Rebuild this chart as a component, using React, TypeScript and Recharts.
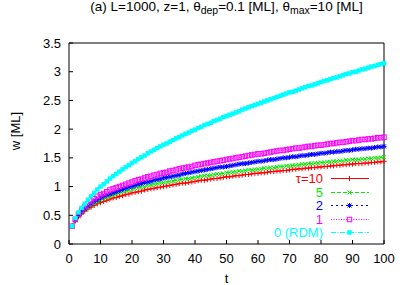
import React from "react"
import { LineChart, Line, XAxis, YAxis } from "recharts"

document.body.style.margin = "0"

const FONT = "'Liberation Sans', Arial, sans-serif"

const tValues = [
    1, 2, 3, 4, 5, 6, 7, 8, 9, 10, 11, 12, 13, 14, 15, 16, 17, 18, 19, 20,
    21, 22, 23, 24, 25, 26, 27, 28, 29, 30, 31, 32, 33, 34, 35, 36, 37, 38, 39, 40,
    41, 42, 43, 44, 45, 46, 47, 48, 49, 50, 51, 52, 53, 54, 55, 56, 57, 58, 59, 60,
    61, 62, 63, 64, 65, 66, 67, 68, 69, 70, 71, 72, 73, 74, 75, 76, 77, 78, 79, 80,
    81, 82, 83, 84, 85, 86, 87, 88, 89, 90, 91, 92, 93, 94, 95, 96, 97, 98, 99, 100,
]

// w [ML], one value per t
const tau10 = [
    0.31, 0.40, 0.47, 0.52, 0.57, 0.61, 0.64, 0.67, 0.70, 0.72,
    0.74, 0.76, 0.78, 0.80, 0.81, 0.83, 0.84, 0.86, 0.87, 0.89,
    0.90, 0.91, 0.92, 0.94, 0.95, 0.96, 0.97, 0.98, 0.99, 1.00,
    1.01, 1.02, 1.03, 1.04, 1.05, 1.06, 1.06, 1.07, 1.08, 1.09,
    1.10, 1.11, 1.11, 1.12, 1.13, 1.14, 1.14, 1.15, 1.16, 1.17,
    1.17, 1.18, 1.19, 1.19, 1.20, 1.21, 1.21, 1.22, 1.23, 1.23,
    1.24, 1.24, 1.25, 1.26, 1.26, 1.27, 1.27, 1.28, 1.28, 1.29,
    1.30, 1.30, 1.31, 1.31, 1.32, 1.32, 1.33, 1.33, 1.34, 1.34,
    1.35, 1.35, 1.36, 1.36, 1.37, 1.37, 1.38, 1.38, 1.39, 1.39,
    1.40, 1.40, 1.40, 1.41, 1.41, 1.42, 1.42, 1.43, 1.43, 1.44,
]
const tau5 = [
    0.31, 0.41, 0.48, 0.54, 0.59, 0.63, 0.67, 0.70, 0.73, 0.76,
    0.79, 0.81, 0.83, 0.85, 0.87, 0.89, 0.91, 0.92, 0.94, 0.95,
    0.97, 0.98, 0.99, 1.00, 1.02, 1.03, 1.04, 1.05, 1.06, 1.07,
    1.08, 1.09, 1.10, 1.11, 1.12, 1.13, 1.14, 1.14, 1.15, 1.16,
    1.17, 1.18, 1.19, 1.19, 1.20, 1.21, 1.22, 1.22, 1.23, 1.24,
    1.25, 1.25, 1.26, 1.27, 1.27, 1.28, 1.29, 1.29, 1.30, 1.30,
    1.31, 1.32, 1.32, 1.33, 1.33, 1.34, 1.35, 1.35, 1.36, 1.36,
    1.37, 1.37, 1.38, 1.39, 1.39, 1.40, 1.40, 1.41, 1.41, 1.42,
    1.42, 1.43, 1.43, 1.44, 1.44, 1.45, 1.45, 1.46, 1.46, 1.47,
    1.47, 1.47, 1.48, 1.48, 1.49, 1.49, 1.50, 1.50, 1.51, 1.51,
]
const tau2 = [
    0.31, 0.42, 0.50, 0.56, 0.61, 0.66, 0.70, 0.74, 0.77, 0.80,
    0.83, 0.85, 0.87, 0.89, 0.91, 0.93, 0.95, 0.97, 0.99, 1.00,
    1.02, 1.04, 1.05, 1.07, 1.08, 1.09, 1.11, 1.12, 1.13, 1.15,
    1.16, 1.17, 1.18, 1.19, 1.20, 1.22, 1.23, 1.24, 1.25, 1.26,
    1.27, 1.28, 1.29, 1.30, 1.31, 1.32, 1.33, 1.34, 1.34, 1.35,
    1.36, 1.37, 1.38, 1.39, 1.40, 1.40, 1.41, 1.42, 1.43, 1.44,
    1.44, 1.45, 1.46, 1.47, 1.47, 1.48, 1.49, 1.50, 1.50, 1.51,
    1.52, 1.52, 1.53, 1.54, 1.54, 1.55, 1.56, 1.56, 1.57, 1.58,
    1.58, 1.59, 1.60, 1.60, 1.61, 1.61, 1.62, 1.63, 1.63, 1.64,
    1.65, 1.65, 1.66, 1.66, 1.67, 1.67, 1.68, 1.69, 1.69, 1.70,
]
const tau1 = [
    0.31, 0.43, 0.52, 0.59, 0.65, 0.70, 0.75, 0.79, 0.83, 0.86,
    0.88, 0.91, 0.94, 0.96, 0.98, 1.00, 1.02, 1.04, 1.06, 1.08,
    1.10, 1.12, 1.13, 1.15, 1.17, 1.18, 1.20, 1.21, 1.23, 1.24,
    1.25, 1.27, 1.28, 1.29, 1.31, 1.32, 1.33, 1.34, 1.35, 1.37,
    1.38, 1.39, 1.40, 1.41, 1.42, 1.43, 1.44, 1.45, 1.46, 1.47,
    1.48, 1.49, 1.50, 1.51, 1.52, 1.53, 1.54, 1.55, 1.56, 1.57,
    1.57, 1.58, 1.59, 1.60, 1.61, 1.62, 1.63, 1.63, 1.64, 1.65,
    1.66, 1.67, 1.67, 1.68, 1.69, 1.70, 1.70, 1.71, 1.72, 1.72,
    1.73, 1.74, 1.75, 1.75, 1.76, 1.77, 1.77, 1.78, 1.79, 1.80,
    1.80, 1.81, 1.82, 1.82, 1.83, 1.83, 1.84, 1.85, 1.85, 1.86,
]
const rdm = [
    0.31, 0.45, 0.55, 0.63, 0.70, 0.77, 0.83, 0.89, 0.95, 1.00,
    1.04, 1.09, 1.14, 1.18, 1.22, 1.26, 1.30, 1.34, 1.37, 1.41,
    1.44, 1.48, 1.51, 1.54, 1.58, 1.61, 1.64, 1.67, 1.70, 1.73,
    1.75, 1.78, 1.81, 1.84, 1.86, 1.89, 1.92, 1.94, 1.97, 1.99,
    2.02, 2.04, 2.07, 2.09, 2.11, 2.14, 2.16, 2.18, 2.21, 2.23,
    2.25, 2.27, 2.29, 2.31, 2.34, 2.36, 2.38, 2.40, 2.42, 2.44,
    2.46, 2.48, 2.50, 2.52, 2.54, 2.56, 2.58, 2.60, 2.62, 2.64,
    2.65, 2.67, 2.69, 2.71, 2.73, 2.75, 2.76, 2.78, 2.80, 2.82,
    2.84, 2.85, 2.87, 2.89, 2.90, 2.92, 2.94, 2.96, 2.97, 2.99,
    3.00, 3.02, 3.04, 3.05, 3.07, 3.09, 3.10, 3.12, 3.13, 3.15,
]

const xTicks = [0, 10, 20, 30, 40, 50, 60, 70, 80, 90, 100]
const yTicks = [0, 0.5, 1, 1.5, 2, 2.5, 3, 3.5]

const rows = tValues.map((t, i) => ({
    t,
    tau10: tau10[i],
    tau5: tau5[i],
    tau2: tau2[i],
    tau1: tau1[i],
    rdm: rdm[i],
}))

type MarkerKind = "plus" | "cross" | "star" | "box" | "fill"

const series: Array<{ key: string; label: string; color: string; dash?: string; marker: MarkerKind }> = [
    { key: "tau10", label: "τ=10", color: "#ff0000", marker: "plus" },
    { key: "tau5", label: "5", color: "#00ee00", dash: "4 2", marker: "cross" },
    { key: "tau2", label: "2", color: "#0000ff", dash: "2 3", marker: "star" },
    { key: "tau1", label: "1", color: "#ff00ff", dash: "1 1.5", marker: "box" },
    { key: "rdm", label: "0 (RDM)", color: "#00ffff", dash: "5 1.5 1 1.5", marker: "fill" },
]

function Marker({ cx, cy, kind, color }: { cx: number; cy: number; kind: MarkerKind; color: string }) {
    if (cx == null || cy == null) return null
    const s = 2.5
    const d = 2
    if (kind === "plus") {
        return (
            <g stroke={color} strokeWidth={1}>
                <line x1={cx - s} y1={cy} x2={cx + s} y2={cy} />
                <line x1={cx} y1={cy - s} x2={cx} y2={cy + s} />
            </g>
        )
    }
    if (kind === "cross") {
        return (
            <g stroke={color} strokeWidth={1}>
                <line x1={cx - d} y1={cy - d} x2={cx + d} y2={cy + d} />
                <line x1={cx - d} y1={cy + d} x2={cx + d} y2={cy - d} />
            </g>
        )
    }
    if (kind === "star") {
        return (
            <g stroke={color} strokeWidth={1}>
                <line x1={cx - s} y1={cy} x2={cx + s} y2={cy} />
                <line x1={cx} y1={cy - s} x2={cx} y2={cy + s} />
                <line x1={cx - d} y1={cy - d} x2={cx + d} y2={cy + d} />
                <line x1={cx - d} y1={cy + d} x2={cx + d} y2={cy - d} />
            </g>
        )
    }
    if (kind === "box") {
        return <rect x={cx - 2.25} y={cy - 2.25} width={4.5} height={4.5} fill="none" stroke={color} strokeWidth={1} />
    }
    return <rect x={cx - 2.25} y={cy - 2.25} width={4.5} height={4.5} fill={color} />
}

function KeyBox() {
    return (
        <div style={{ position: "absolute", left: 240, top: 172, width: 135, fontFamily: FONT, fontSize: 13 }}>
            {series.map(s => (
                <div key={s.key} style={{ display: "flex", alignItems: "center", height: 13.5 }}>
                    <span style={{ width: 83, textAlign: "right", color: s.color, lineHeight: "13.5px" }}>{s.label}</span>
                    <svg width={38} height={13} style={{ marginLeft: 8 }}>
                        <line x1={0} y1={6.5} x2={38} y2={6.5} stroke={s.color} strokeDasharray={s.dash} />
                        <Marker cx={18.5} cy={6.5} kind={s.marker} color={s.color} />
                    </svg>
                </div>
            ))}
        </div>
    )
}

function YLabel() {
    return (
        <text x={15} y={131} transform="rotate(-90 15 131)" textAnchor="middle" dominantBaseline="central" fill="#000" fontSize={13}>
            w [ML]
        </text>
    )
}

export default function App() {
    const axisText = { fill: "#000", fontSize: 13, fontFamily: FONT }
    const sub = { fontSize: 10.5, position: "relative" as const, top: 3 }
    return (
        <div style={{ position: "relative", width: 407, height: 285, fontFamily: FONT, background: "#fff" }}>
            <div
                style={{
                    position: "absolute",
                    top: 0,
                    left: 226.5,
                    transform: "translateX(-50%)",
                    whiteSpace: "nowrap",
                    fontSize: 13.5,
                    lineHeight: "14px",
                    color: "#000",
                }}
            >
                (a) L=1000, z=1, θ<span style={sub}>dep</span>=0.1 [ML], θ<span style={sub}>max</span>=10 [ML]
            </div>
            <LineChart width={407} height={285} data={rows} margin={{ top: 42, right: 22, bottom: 0, left: 0 }}>
                <XAxis
                    xAxisId="b"
                    dataKey="t"
                    type="number"
                    domain={[0, 100]}
                    ticks={xTicks}
                    height={41}
                    tickSize={-4}
                    tickMargin={14}
                    tick={axisText}
                    stroke="#000"
                    label={{ value: "t", position: "insideBottom", offset: 2, fill: "#000", fontSize: 13 }}
                />
                <XAxis
                    xAxisId="top"
                    orientation="top"
                    dataKey="t"
                    type="number"
                    domain={[0, 100]}
                    ticks={xTicks}
                    height={1}
                    tickSize={-4}
                    tick={false}
                    stroke="#000"
                />
                <YAxis
                    yAxisId="l"
                    type="number"
                    domain={[0, 3.5]}
                    ticks={yTicks}
                    width={69}
                    tickSize={-4}
                    tickMargin={12}
                    tick={axisText}
                    stroke="#000"
                    label={{ content: () => <YLabel /> }}
                />
                <YAxis
                    yAxisId="r"
                    orientation="right"
                    type="number"
                    domain={[0, 3.5]}
                    ticks={yTicks}
                    width={1}
                    tickSize={-4}
                    tick={false}
                    stroke="#000"
                />
                {series.map(s => (
                    <Line
                        key={s.key}
                        xAxisId="b"
                        yAxisId="l"
                        dataKey={s.key}
                        type="linear"
                        stroke={s.color}
                        strokeWidth={1}
                        strokeDasharray={s.dash}
                        isAnimationActive={false}
                        activeDot={false}
                        dot={(p: any) => (
                            <Marker key={`${s.key}-${p.index}`} cx={p.cx} cy={p.cy} kind={s.marker} color={s.color} />
                        )}
                    />
                ))}
            </LineChart>
            <KeyBox />
        </div>
    )
}
